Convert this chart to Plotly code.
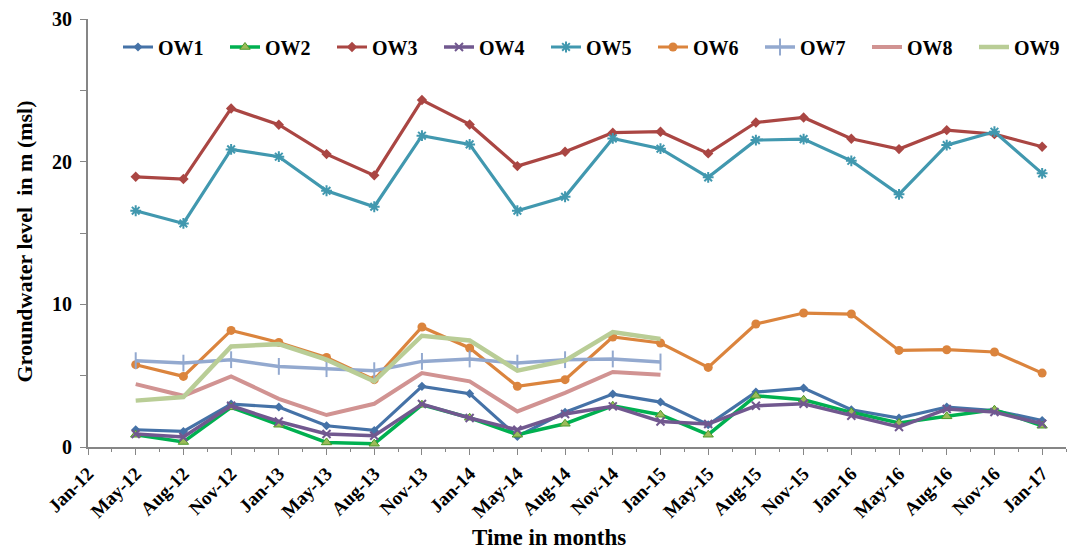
import plotly.graph_objects as go

# Sampling months (category axis); Jan-12 carries no observations
months = ["Jan-12", "May-12", "Aug-12", "Nov-12", "Jan-13", "May-13", "Aug-13",
          "Nov-13", "Jan-14", "May-14", "Aug-14", "Nov-14", "Jan-15", "May-15",
          "Aug-15", "Nov-15", "Jan-16", "May-16", "Aug-16", "Nov-16", "Jan-17"]

# Groundwater levels (m msl) per observation well, from May-12 onward
ow1 = [1.21, 1.09, 3.01, 2.80, 1.49, 1.16, 4.25, 3.74, 0.74, 2.43, 3.71, 3.15,
       1.56, 3.85, 4.13, 2.61, 2.03, 2.80, 2.56, 1.86]
ow2 = [0.86, 0.35, 2.78, 1.56, 0.32, 0.23, 2.96, 2.05, 0.86, 1.63, 2.89, 2.26,
       0.86, 3.59, 3.31, 2.43, 1.68, 2.15, 2.61, 1.49]
ow3 = [18.94, 18.78, 23.73, 22.59, 20.53, 19.04, 24.32, 22.61, 19.69, 20.70,
       22.03, 22.10, 20.58, 22.75, 23.10, 21.61, 20.88, 22.21, 21.93, 21.05]
ow4 = [0.91, 0.70, 2.89, 1.79, 0.91, 0.79, 3.01, 2.03, 1.21, 2.31, 2.85, 1.79,
       1.61, 2.89, 3.03, 2.19, 1.40, 2.66, 2.45, 1.63]
ow5 = [16.56, 15.67, 20.86, 20.35, 17.96, 16.84, 21.82, 21.21, 16.56, 17.54,
       21.63, 20.91, 18.90, 21.51, 21.58, 20.06, 17.71, 21.16, 22.10, 19.18]
ow6 = [5.77, 4.95, 8.17, 7.33, 6.28, 4.72, 8.41, 6.94, 4.25, 4.72, 7.71, 7.29,
       5.58, 8.62, 9.39, 9.32, 6.77, 6.82, 6.66, 5.18]
ow7 = [6.05, 5.88, 6.12, 5.65, 5.49, 5.35, 6.00, 6.17, 5.88, 6.12, 6.17, 5.96]
ow8 = [4.41, 3.59, 4.95, 3.38, 2.24, 3.03, 5.18, 4.60, 2.49, 3.80, 5.26, 5.07]
ow9 = [3.25, 3.50, 7.05, 7.21, 6.12, 4.60, 7.80, 7.47, 5.35, 6.05, 8.06, 7.57]

series = [
    ("OW1", ow1, "#4572A7", dict(symbol="diamond", size=7, color="#4572A7"), 3.2),
    ("OW2", ow2, "#00B050", dict(symbol="triangle-up", size=9, color="#9BBB59",
                                 line=dict(color="#4E9A2A", width=1)), 3.5),
    ("OW3", ow3, "#AA4643", dict(symbol="diamond", size=8, color="#AA4643"), 3.2),
    ("OW4", ow4, "#71588F", dict(symbol="x-thin", size=8, color="#71588F",
                                 line=dict(color="#71588F", width=2)), 3.5),
    ("OW5", ow5, "#4198AF", dict(symbol="asterisk", size=9, color="#4198AF",
                                 line=dict(color="#4198AF", width=2)), 3.2),
    ("OW6", ow6, "#DB843D", dict(symbol="circle", size=9, color="#DB843D"), 3.2),
    ("OW7", ow7, "#93A9CF", dict(symbol="line-ns", size=12, color="#93A9CF",
                                 line=dict(color="#93A9CF", width=2)), 3.5),
    ("OW8", ow8, "#D19392", None, 4),
    ("OW9", ow9, "#B9CD96", None, 4.5),
]

axis_col = "#868686"
font_fam = "Liberation Serif"
legend_font = dict(family=font_fam, size=20, color="black", weight="bold")

fig = go.Figure()
legends = {}
for i, (name, vals, color, marker, width) in enumerate(series):
    key = "legend" if i == 0 else f"legend{i + 1}"
    xs = list(range(1, 1 + len(vals)))
    fig.add_trace(go.Scatter(
        x=xs, y=vals, name=name, legend=key,
        mode="lines+markers" if marker else "lines",
        line=dict(color=color, width=width),
        marker=marker if marker else None,
    ))
    # one legend box per well, laid out in a single evenly spaced row
    legends[key] = dict(orientation="h", x=(30 + 107 * i) / 978, y=0.9346,
                        xanchor="left", yanchor="middle", font=legend_font,
                        bgcolor="rgba(0,0,0,0)", itemwidth=30)

fig.update_layout(
    width=1067, height=551,
    margin=dict(l=88, r=1, t=19, b=104),
    paper_bgcolor="white", plot_bgcolor="white",
    font=dict(family=font_fam, color="black"),
    showlegend=True,
    xaxis=dict(
        range=[0, 20.5], tickmode="array", tickvals=list(range(len(months))),
        ticktext=months, tickangle=-45, ticks="outside", ticklen=6, tickwidth=1,
        tickcolor=axis_col, showline=True, linecolor=axis_col, linewidth=2,
        showgrid=False, zeroline=False,
        tickfont=dict(family=font_fam, size=19, color="black", weight="bold"),
        minor=dict(dtick=0.5, tick0=0, ticks="outside", ticklen=3, tickcolor=axis_col,
                   showgrid=False),
    ),
    yaxis=dict(
        range=[0, 30], dtick=10, ticks="outside", ticklen=6, tickwidth=1,
        tickcolor=axis_col, showline=True, linecolor=axis_col, linewidth=2,
        showgrid=False, zeroline=False, ticklabelstandoff=4,
        tickfont=dict(family=font_fam, size=20, color="black", weight="bold"),
        minor=dict(dtick=5, ticks="outside", ticklen=6, tickcolor=axis_col,
                   showgrid=False),
    ),
    annotations=[
        dict(text="Time in months", xref="paper", yref="paper", x=0.4714, y=-0.2103,
             xanchor="center", yanchor="middle", showarrow=False,
             font=dict(family=font_fam, size=23, color="black", weight="bold")),
        dict(text="Groundwater level  in m (msl)", xref="paper", yref="paper",
             x=-0.0644, y=0.48, xanchor="center", yanchor="middle", textangle=-90,
             showarrow=False,
             font=dict(family=font_fam, size=22, color="black", weight="bold")),
    ],
    **legends,
)

fig.write_html("out.html")
